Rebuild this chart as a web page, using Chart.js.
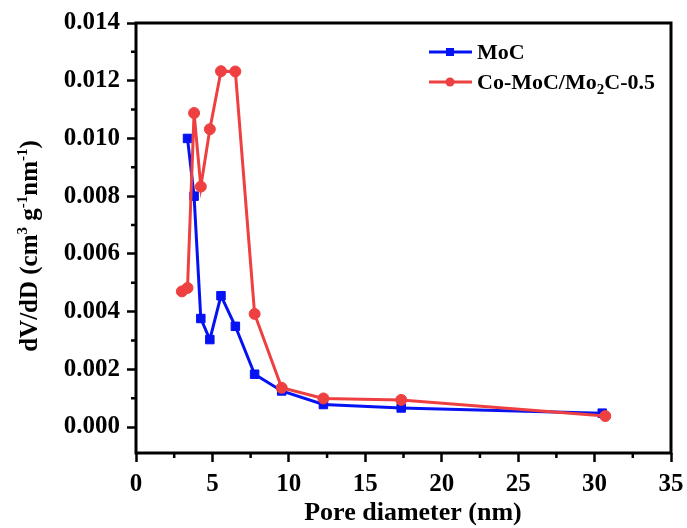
<!DOCTYPE html>
<html>
<head>
<meta charset="utf-8">
<script src="https://cdn.jsdelivr.net/npm/chart.js@4.4.0/dist/chart.umd.min.js"></script>
<style>
  html, body { margin: 0; padding: 0; background: #fff; }
</style>
</head>
<body>
<canvas id="poreChart" width="687" height="528"></canvas>
<script>
// data
const poreMoC = [3.37, 3.8, 4.24, 4.83, 5.56, 6.5, 7.76, 9.53, 12.26, 17.35, 30.5];
const dvMoC = [0.0100, 0.0080, 0.00376, 0.00303, 0.00455, 0.00349, 0.00183, 0.00125, 0.00078, 0.00066, 0.00048];
const poreCo = [3.0, 3.37, 3.8, 4.24, 4.83, 5.56, 6.5, 7.76, 9.53, 12.26, 17.35, 30.7];
const dvCo = [0.00470, 0.00482, 0.01088, 0.00833, 0.01032, 0.01233, 0.01232, 0.00392, 0.00136, 0.00099, 0.00094, 0.00038];
const xTicks = [0, 5, 10, 15, 20, 25, 30, 35];
const xMinor = [2.5, 7.5, 12.5, 17.5, 22.5, 27.5, 32.5];
const yTicks = [0, 0.002, 0.004, 0.006, 0.008, 0.010, 0.012, 0.014];
const yMinor = [0.001, 0.003, 0.005, 0.007, 0.009, 0.011, 0.013];
const seriesNames = ['MoC', 'Co-MoC/Mo2C-0.5'];
const xTitle = 'Pore diameter (nm)';

const BLUE = '#0512F2';
const RED = '#EE4040';
const SERIF = '"Liberation Serif", "Times New Roman", serif';

const toXY = (xs, ys) => xs.map((x, i) => ({ x: x, y: ys[i] }));

// frame, minor ticks, legend, axis titles
const extras = {
    id: 'extras',
    afterDraw(chart) {
        const ctx = chart.ctx;
        const a = chart.chartArea;
        const sx = chart.scales.x, sy = chart.scales.y;
        ctx.save();
        ctx.strokeStyle = '#000';
        ctx.lineWidth = 3;
        ctx.strokeRect(a.left, a.top, a.right - a.left, a.bottom - a.top);

        ctx.lineWidth = 2.5;
        ctx.beginPath();
        xMinor.forEach(v => {
            const px = sx.getPixelForValue(v);
            ctx.moveTo(px, a.bottom);
            ctx.lineTo(px, a.bottom + 5);
        });
        yMinor.forEach(v => {
            const py = sy.getPixelForValue(v);
            ctx.moveTo(a.left, py);
            ctx.lineTo(a.left - 5, py);
        });
        ctx.stroke();

        // legend
        const rows = [
            { y: 52, color: BLUE, style: 'rect' },
            { y: 82, color: RED, style: 'circle' }
        ];
        rows.forEach((r, i) => {
            ctx.strokeStyle = r.color;
            ctx.fillStyle = r.color;
            ctx.lineWidth = 3;
            ctx.beginPath();
            ctx.moveTo(429, r.y);
            ctx.lineTo(472, r.y);
            ctx.stroke();
            if (r.style === 'rect') {
                ctx.fillRect(446, r.y - 4, 8, 8);
            } else {
                ctx.beginPath();
                ctx.arc(450, r.y, 4.5, 0, Math.PI * 2);
                ctx.fill();
            }
            ctx.fillStyle = '#000';
            ctx.textBaseline = 'alphabetic';
            ctx.textAlign = 'left';
            ctx.font = 'bold 22px ' + SERIF;
            const base = r.y + 7;
            if (i === 0) {
                ctx.fillText(seriesNames[0], 477, base);
            } else {
                let x = 477;
                const p1 = 'Co-MoC/Mo', p3 = 'C-0.5';
                ctx.fillText(p1, x, base);
                x += ctx.measureText(p1).width;
                ctx.font = 'bold 15px ' + SERIF;
                ctx.fillText('2', x, base + 5);
                x += ctx.measureText('2').width;
                ctx.font = 'bold 22px ' + SERIF;
                ctx.fillText(p3, x, base);
            }
        });

        // x axis title
        ctx.fillStyle = '#000';
        ctx.font = 'bold 26px ' + SERIF;
        ctx.textAlign = 'center';
        ctx.fillText(xTitle, 413, 520);

        // y axis title with superscripts
        ctx.textAlign = 'left';
        const parts = [
            ['dV/dD (cm', 0], ['3', 1], [' g', 0], ['-1', 1], ['nm', 0], ['-1', 1], [')', 0]
        ];
        const big = 'bold 25px ' + SERIF, small = 'bold 15px ' + SERIF;
        let total = 0;
        parts.forEach(p => {
            ctx.font = p[1] ? small : big;
            total += ctx.measureText(p[0]).width;
        });
        ctx.translate(37, 246);
        ctx.rotate(-Math.PI / 2);
        let x = -total / 2;
        parts.forEach(p => {
            ctx.font = p[1] ? small : big;
            ctx.fillText(p[0], x, p[1] ? -10 : 0);
            x += ctx.measureText(p[0]).width;
        });
        ctx.restore();
    }
};

new Chart(document.getElementById('poreChart'), {
    type: 'line',
    data: {
        datasets: [
            {
                label: seriesNames[0],
                data: toXY(poreMoC, dvMoC),
                borderColor: BLUE,
                backgroundColor: BLUE,
                borderWidth: 3,
                pointStyle: 'rect',
                pointRadius: 6,
                pointBorderWidth: 1,
                tension: 0,
                order: 1
            },
            {
                label: seriesNames[1],
                data: toXY(poreCo, dvCo),
                borderColor: RED,
                backgroundColor: RED,
                borderWidth: 3,
                pointStyle: 'circle',
                pointRadius: 5.5,
                pointBorderWidth: 1,
                tension: 0,
                order: 0
            }
        ]
    },
    options: {
        responsive: false,
        animation: false,
        layout: { padding: { top: 23, right: 16, left: 0, bottom: 0 } },
        plugins: {
            legend: { display: false },
            tooltip: { enabled: false }
        },
        scales: {
            x: {
                type: 'linear',
                min: 0,
                max: 35,
                afterFit: s => { s.height = 75; s.paddingLeft = 0; s.paddingRight = 0; },
                afterBuildTicks: s => { s.ticks = xTicks.map(v => ({ value: v })); },
                border: { display: false },
                grid: { drawOnChartArea: false, drawTicks: true, tickLength: 9, tickWidth: 2.5, tickColor: '#000' },
                ticks: {
                    color: '#000',
                    padding: 8,
                    maxRotation: 0,
                    font: { family: SERIF, size: 25, weight: 'bold' }
                }
            },
            y: {
                type: 'linear',
                min: -0.0009,
                max: 0.014,
                afterFit: s => { s.width = 136; s.paddingTop = 0; s.paddingBottom = 0; },
                afterBuildTicks: s => { s.ticks = yTicks.map(v => ({ value: v })); },
                border: { display: false },
                grid: { drawOnChartArea: false, drawTicks: true, tickLength: 9, tickWidth: 2.5, tickColor: '#000' },
                ticks: {
                    color: '#000',
                    padding: 7,
                    font: { family: SERIF, size: 25, weight: 'bold' },
                    callback: v => v.toFixed(3)
                }
            }
        }
    },
    plugins: [extras]
});
</script>
</body>
</html>
